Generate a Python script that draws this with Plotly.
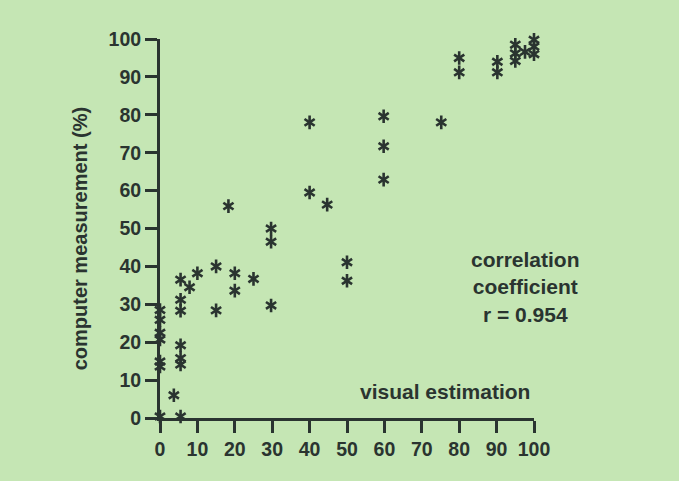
import plotly.graph_objects as go

# visual estimation (%)
visual = [0, 0, 0, 0, 0, 0, 0,
          3.7,
          5.5, 5.5, 5.5, 5.5, 5.5, 5.5, 5.5,
          7.9, 10, 15, 15, 18.3, 20, 20, 25,
          29.7, 29.7, 29.7,
          40, 40, 44.7, 50, 50,
          59.8, 59.8, 59.8, 75.2,
          80, 80, 90.2, 90.2,
          95, 95, 95, 97.6, 100, 100, 100]
# computer measurement (%)
computer = [0.4, 13.6, 14.9, 20.7, 22.5, 25.9, 28.5,
            6.0,
            0.4, 14.1, 15.8, 19.2, 28.3, 31.2, 36.5,
            34.5, 38.2, 40.0, 28.4, 55.9, 38.2, 33.6, 36.7,
            50.0, 46.5, 29.7,
            78.0, 59.5, 56.3, 41.1, 36.2,
            79.6, 71.7, 62.9, 78.0,
            95.0, 91.2, 94.0, 91.2,
            98.5, 96.2, 94.2, 96.6, 99.8, 98.0, 96.0]

ticks = [0, 10, 20, 30, 40, 50, 60, 70, 80, 90, 100]
tick_text = [str(t) for t in ticks]

BG = "rgb(197,230,180)"
INK = "rgb(42,52,48)"
FONT = "Liberation Sans, Arial, sans-serif"

fig = go.Figure()
for sym in ["y-up-open", "y-down-open"]:
    fig.add_trace(go.Scatter(
        x=visual, y=computer, mode="markers", cliponaxis=False,
        marker=dict(symbol=sym, size=8.5, line=dict(width=2.6, color=INK), color=INK),
        hoverinfo="x+y", showlegend=False))

axis_common = dict(
    range=[0, 100], tickvals=ticks, ticktext=tick_text,
    showline=True, linewidth=3, linecolor=INK,
    ticks="outside", ticklen=12, tickwidth=2.6, tickcolor=INK,
    showgrid=False, zeroline=False,
    tickfont=dict(family=FONT, size=19.5, color=INK, weight="bold"),
)
fig.update_xaxes(**axis_common)
fig.update_yaxes(**axis_common)

fig.add_annotation(text="computer measurement (%)", xref="paper", yref="paper",
                   x=-0.214, y=0.474, textangle=-90, showarrow=False,
                   xanchor="center", yanchor="middle",
                   font=dict(family=FONT, size=20, color=INK, weight="bold"))
fig.add_annotation(text="visual estimation", xref="x", yref="y",
                   x=99.5, y=7, showarrow=False, xanchor="right", yanchor="middle",
                   font=dict(family=FONT, size=21, color=INK, weight="bold"))
fig.add_annotation(text="correlation<br>coefficient<br>r = 0.954", xref="x", yref="y",
                   x=97.7, y=34.5, showarrow=False, xanchor="center", yanchor="middle",
                   align="center",
                   font=dict(family=FONT, size=21, color=INK, weight="bold"))

fig.update_layout(
    width=679, height=481,
    margin=dict(l=160, r=145, t=39, b=63),
    paper_bgcolor=BG, plot_bgcolor=BG,
)

fig.write_html("out.html", config={"displayModeBar": False},
               post_script="document.body.style.margin='0';document.body.style.overflow='hidden';")
